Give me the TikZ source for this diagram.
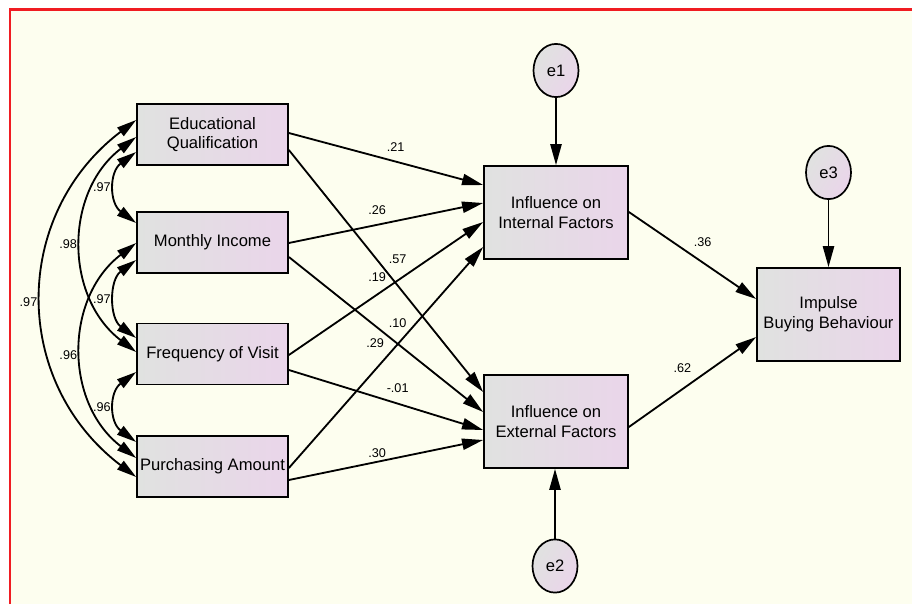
\documentclass[tikz,border=0pt]{standalone}
\usepackage{fontspec}
\setmainfont{Liberation Sans}
\usetikzlibrary{arrows.meta,shapes.geometric,calc}

\definecolor{paper}{RGB}{253,254,239}
\definecolor{boxgrey}{RGB}{224,226,224}
\definecolor{boxpink}{RGB}{234,213,234}
\definecolor{framered}{RGB}{240,28,34}

\begin{document}
\begin{tikzpicture}[x=0.025cm, y=-0.025cm,
    obs/.style={draw, line width=1.2pt, left color=boxgrey, right color=boxpink,
        align=center, inner sep=0pt, font=\fontsize{11.8}{14}\selectfont},
    err/.style={ellipse, draw, line width=1.2pt, left color=boxgrey, right color=boxpink,
        shading angle=60, minimum width=1.125cm, minimum height=1.33cm, inner sep=0pt,
        font=\fontsize{11.8}{14}\selectfont},
    regarrow/.style={line width=1.3pt, -{Triangle[length=15pt,width=8pt]}},
    covarrow/.style={line width=1.3pt, {Triangle[length=14pt,width=7.5pt]}-{Triangle[length=14pt,width=7.5pt]}},
    coef/.style={inner sep=0pt, font=\fontsize{9}{10}\selectfont}]

    \useasboundingbox (0,0) rectangle (912,604);
    \fill[white] (0,0) rectangle (912,604);
    \fill[paper] (10,9.5) rectangle (912,604);
    \draw[framered, line width=1.5pt] (10,604) -- (10,9.5) -- (912,9.5);

    % observed variables
    \node[obs, minimum width=3.775cm, minimum height=1.525cm] (Education node) at (212.5,134.5) {Educational\\Qualification};
    \node[obs, minimum width=3.775cm, minimum height=1.525cm] (Income node) at (212.5,242.5) {Monthly Income};
    \node[obs, minimum width=3.775cm, minimum height=1.525cm] (Visit node) at (212.5,354) {Frequency of Visit};
    \node[obs, minimum width=3.775cm, minimum height=1.525cm] (Amount node) at (212.5,466.5) {Purchasing Amount};
    \node[obs, minimum width=3.6cm, minimum height=2.325cm] (Internal node) at (556,212.5) {Influence on\\Internal Factors};
    \node[obs, minimum width=3.6cm, minimum height=2.325cm] (External node) at (556,421.5) {Influence on\\External Factors};
    \node[obs, minimum width=3.575cm, minimum height=2.325cm] (Impulse node) at (828.5,314.5) {Impulse\\Buying Behaviour};

    % residuals
    \node[err] (e1 node) at (556,70.5) {e1};
    \node[err] (e2 node) at (555,566) {e2};
    \node[err] (e3 node) at (828.5,172.5) {e3};

    \draw[regarrow] (e1 node) -- (Internal node);
    \draw[regarrow] (e3 node) -- (Impulse node);
    \draw[regarrow] (e2 node) -- (e2 node |- External node.south);

    % paths to the two factors
    \draw[regarrow] ($(Education node.east)+(0,-1.5)$) -- node[coef, pos=.55, shift={(0,-14.6)}] {.21} ($(Internal node.west)+(0,-27.5)$);
    \draw[regarrow] ($(Education node.east)+(0,15.5)$) -- node[coef, pos=.56, shift={(0,-26)}] {.57} ($(External node.west)+(0,-29.5)$);
    \draw[regarrow] ($(Income node.east)+(0,0.5)$) -- node[coef, pos=.454, shift={(0,-14.8)}] {.26} ($(Internal node.west)+(0,-9.5)$);
    \draw[regarrow] ($(Income node.east)+(0,14.5)$) -- node[coef, pos=.56, shift={(0,-21)}] {.10} ($(External node.west)+(0,-9.5)$);
    \draw[regarrow] ($(Visit node.east)+(0,1)$) -- node[coef, pos=.454, shift={(0,-17.6)}] {.19} ($(Internal node.west)+(0,9.5)$);
    \draw[regarrow] ($(Visit node.east)+(0,16)$) -- node[coef, pos=.56, shift={(0,-15.7)}] {-.01} ($(External node.west)+(0,8.5)$);
    \draw[regarrow] ($(Amount node.east)+(0,1.5)$) -- node[coef, pos=.444, shift={(0,-27)}] {.29} ($(Internal node.west)+(0,34.5)$);
    \draw[regarrow] ($(Amount node.east)+(0,13.5)$) -- node[coef, pos=.454, shift={(0,-8.8)}] {.30} ($(External node.west)+(0,18.5)$);

    % paths to impulse buying
    \draw[regarrow] ($(Internal node.east)+(0,-0.5)$) -- node[coef, pos=.58, shift={(0,-20.6)}] {.36} ($(Impulse node.west)+(0,-15.5)$);
    \draw[regarrow] ($(External node.east)+(0,5.5)$) -- node[coef, pos=.42, shift={(0,-21.3)}] {.62} ($(Impulse node.west)+(0,22.5)$);

    % covariances
    \draw[covarrow] ($(Education node.west)+(0,17.5)$) .. controls +(-27,20) and +(-27,-20) .. ($(Income node.west)+(0,-19.5)$) node[coef, pos=.5, left=3pt] {.97};
    \draw[covarrow] ($(Income node.west)+(0,17.5)$) .. controls +(-27,20) and +(-27,-20) .. ($(Visit node.west)+(0,-16)$) node[coef, pos=.5, left=3pt] {.97};
    \draw[covarrow] ($(Visit node.west)+(0,18)$) .. controls +(-27,20) and +(-27,-20) .. ($(Amount node.west)+(0,-24.5)$) node[coef, pos=.5, left=3pt] {.96};
    \draw[covarrow] ($(Education node.west)+(0,2.5)$) .. controls +(-72,55) and +(-72,-55) .. ($(Visit node.west)+(0,-2)$) node[coef, pos=.5, left=3pt] {.98};
    \draw[covarrow] ($(Income node.west)+(0,0.5)$) .. controls +(-72,55) and +(-72,-55) .. ($(Amount node.west)+(0,-8.5)$) node[coef, pos=.52, left=3pt] {.96};
    \draw[covarrow] ($(Education node.west)+(0,-14.5)$) .. controls +(-125,95) and +(-125,-95) .. ($(Amount node.west)+(0,10.5)$) node[coef, pos=.51, left=3pt] {.97};
\end{tikzpicture}
\end{document}
